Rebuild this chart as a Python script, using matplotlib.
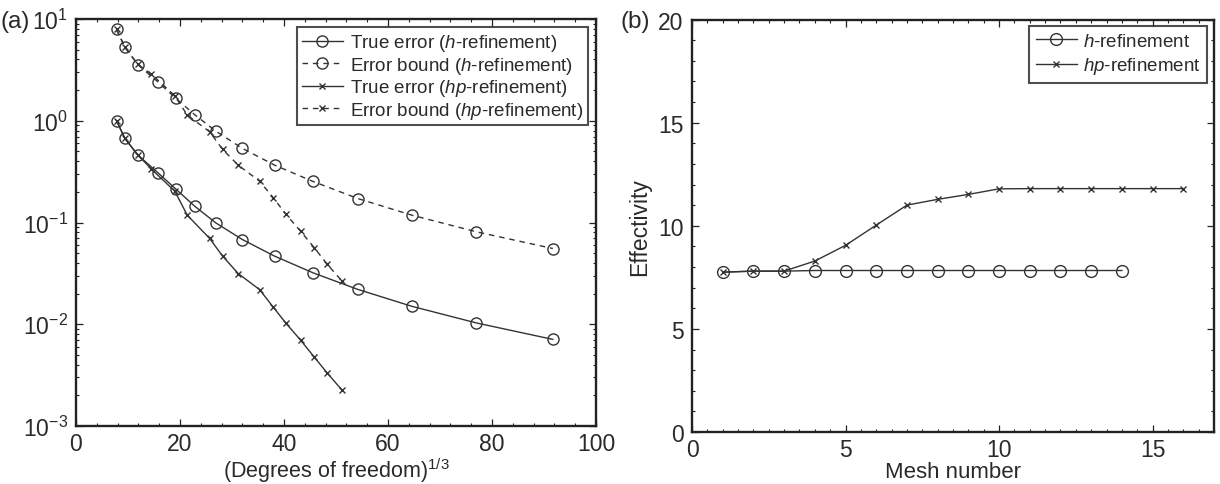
import matplotlib
matplotlib.use("Agg")
import matplotlib.pyplot as plt
from matplotlib.ticker import MultipleLocator, LogLocator, NullFormatter

# ---- data ----
h_x = [7.8, 9.4, 11.9, 15.7, 19.2, 22.8, 26.9, 32.0, 38.2, 45.6, 54.2, 64.6, 77.0, 91.7]
h_true = [1.0, 0.67, 0.46, 0.31, 0.213, 0.145, 0.099, 0.068, 0.0467, 0.032, 0.022, 0.015, 0.0103, 0.0071]
h_bound = [7.9, 5.3, 3.56, 2.42, 1.66, 1.15, 0.79, 0.535, 0.366, 0.253, 0.172, 0.118, 0.081, 0.0555]

hp_x = [7.8, 9.4, 11.9, 14.5, 19.0, 21.4, 25.7, 28.2, 31.2, 35.3, 37.9, 40.4, 43.2, 45.8, 48.3, 51.2]
hp_true = [1.0, 0.67, 0.46, 0.335, 0.203, 0.118, 0.0697, 0.0467, 0.0315, 0.0219, 0.0148, 0.0102,
           0.00697, 0.00477, 0.00332, 0.00224]
hp_bound = [7.9, 5.26, 3.58, 2.87, 1.76, 1.135, 0.78, 0.522, 0.366, 0.255, 0.176, 0.120,
            0.082, 0.0567, 0.0389, 0.0264]

mesh_h = list(range(1, 15))
eff_h = [7.75, 7.8, 7.8, 7.83, 7.83, 7.83, 7.83, 7.83, 7.83, 7.83, 7.83, 7.83, 7.83, 7.83]
mesh_hp = list(range(1, 17))
eff_hp = [7.75, 7.8, 7.8, 8.29, 9.05, 10.03, 11.0, 11.28, 11.52, 11.79, 11.8, 11.8, 11.8, 11.8, 11.8, 11.8]

labels_a = [r'True error ($\mathit{h}$-refinement)', r'Error bound ($\mathit{h}$-refinement)',
            r'True error ($\mathit{hp}$-refinement)', r'Error bound ($\mathit{hp}$-refinement)']
labels_b = [r'$\mathit{h}$-refinement', r'$\mathit{hp}$-refinement']

# ---- style ----
plt.rcParams['font.family'] = ['Liberation Sans', 'DejaVu Sans']
plt.rcParams['mathtext.fontset'] = 'custom'
plt.rcParams['mathtext.rm'] = 'Liberation Sans'
plt.rcParams['mathtext.it'] = 'Liberation Sans:italic'
plt.rcParams['mathtext.default'] = 'regular'
TXT = '#2a2a2a'
LC = '#333333'
plt.rcParams['text.color'] = TXT
plt.rcParams['axes.labelcolor'] = TXT

fig = plt.figure(figsize=(12.2, 4.85), dpi=100)
W, H = 1220, 485
axa = fig.add_axes([76 / W, (H - 427) / H, 520 / W, 407 / H])
axb = fig.add_axes([692 / W, (H - 433) / H, 522 / W, 412.5 / H])


def style_axes(ax):
    for s in ax.spines.values():
        s.set_linewidth(1.7)
        s.set_color('#222222')
    ax.tick_params(which='both', direction='in', top=True, right=True, labelsize=16.5,
                   colors='#222222', labelcolor=TXT)
    ax.tick_params(which='major', length=5, width=0.9, pad=6)
    ax.tick_params(which='minor', length=2.5, width=0.8)
    ax.tick_params(axis='x', which='major', pad=4)


common = dict(color=LC, lw=1.0, mfc='none', mec=LC, mew=1.0)
dash = (0, (4, 3.5))

axa.semilogy(h_x, h_true, marker='o', ms=8, ls='-', label=labels_a[0], **common)
axa.semilogy(h_x, h_bound, marker='o', ms=8, ls=dash, label=labels_a[1], **common)
axa.semilogy(hp_x, hp_true, marker='x', ms=4.5, ls='-', label=labels_a[2], **common)
axa.semilogy(hp_x, hp_bound, marker='x', ms=4.5, ls=dash, label=labels_a[3], **common)
axa.set_xlim(0, 100)
axa.set_ylim(1e-3, 1e1)
axa.xaxis.set_major_locator(MultipleLocator(20))
axa.xaxis.set_minor_locator(MultipleLocator(4))
axa.yaxis.set_major_locator(LogLocator(base=10, numticks=10))
axa.yaxis.set_minor_locator(LogLocator(base=10, subs=range(2, 10), numticks=20))
axa.yaxis.set_minor_formatter(NullFormatter())
style_axes(axa)
axa.set_xlabel(r'(Degrees of freedom)$^{1/3}$', fontsize=15.5, labelpad=0.5)
leg = axa.legend(loc='upper right', fontsize=13.5, frameon=True, fancybox=False,
                 borderaxespad=0.45, handlelength=2.2, handletextpad=0.35,
                 labelspacing=0.08, borderpad=0.25)
leg.get_frame().set_edgecolor('#222222')
leg.get_frame().set_linewidth(1.5)

axb.plot(mesh_h, eff_h, marker='o', ms=8.5, ls='-', label=labels_b[0], **common)
axb.plot(mesh_hp, eff_hp, marker='x', ms=4.5, ls='-', label=labels_b[1], **common)
axb.set_xlim(0, 17)
axb.set_ylim(0, 20)
axb.xaxis.set_major_locator(MultipleLocator(5))
axb.xaxis.set_minor_locator(MultipleLocator(0.5))
axb.yaxis.set_major_locator(MultipleLocator(5))
axb.yaxis.set_minor_locator(MultipleLocator(1))
style_axes(axb)
axb.set_xlabel('Mesh number', fontsize=16, labelpad=0.5)
axb.set_ylabel('Effectivity', fontsize=16.5, labelpad=5)
legb = axb.legend(loc='upper right', fontsize=13.5, frameon=True, fancybox=False,
                  borderaxespad=0.35, handlelength=2.2, handletextpad=0.35,
                  labelspacing=0.3, borderpad=0.35)
legb.get_frame().set_edgecolor('#222222')
legb.get_frame().set_linewidth(1.5)

fig.text(1 / W, 1 - 22 / H, '(a)', fontsize=17.5, ha='left', va='center')
fig.text(621 / W, 1 - 22 / H, '(b)', fontsize=17.5, ha='left', va='center')

fig.savefig('out.png', dpi=100)
